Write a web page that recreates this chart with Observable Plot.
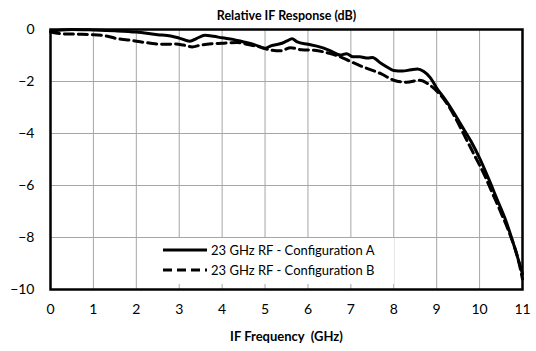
<!DOCTYPE html>
<html><head><meta charset="utf-8">
<script src="https://cdn.jsdelivr.net/npm/d3@7"></script>
<script src="https://cdn.jsdelivr.net/npm/@observablehq/plot@0.6"></script>
<style>
body{margin:0;background:#fff;}
#wrap{position:relative;width:536px;height:351px;font-family:Lato,sans-serif;}
#legend{position:absolute;left:146px;top:238px;width:248px;height:46px;background:#fff;font-size:13px;}
.row{position:absolute;left:16px;height:20px;display:flex;align-items:center;white-space:nowrap;}
.row svg{margin-right:3px;}
</style>
</head><body><div id="wrap"></div>
<script>
const titleText = "Relative IF Response (dB)";
const xLabel = "IF Frequency  (GHz)";
const seriesNames = ["23 GHz RF - Configuration A", "23 GHz RF - Configuration B"];
const xTicks = [0,1,2,3,4,5,6,7,8,9,10,11];
const yTicks = [0,-2,-4,-6,-8,-10];

const freqA = [0,0.25,0.5,1.0,1.5,2.0,2.5,2.8,3.0,3.25,3.4,3.6,3.8,4.0,4.25,4.5,4.75,5.0,5.15,5.35,5.5,5.63,5.75,6.0,6.25,6.5,6.75,6.9,7.05,7.2,7.4,7.5,7.7,7.9,8.0,8.2,8.4,8.55,8.7,8.85,9.0,9.2,9.4,9.6,9.8,10.0,10.2,10.4,10.6,10.8,11.0];
const respA = [-0.08,-0.02,0,-0.02,-0.05,-0.1,-0.2,-0.25,-0.33,-0.45,-0.35,-0.22,-0.26,-0.32,-0.38,-0.48,-0.58,-0.72,-0.62,-0.55,-0.45,-0.36,-0.48,-0.57,-0.66,-0.8,-0.98,-0.93,-1.05,-1.05,-1.1,-1.08,-1.3,-1.5,-1.58,-1.6,-1.55,-1.52,-1.62,-1.85,-2.25,-2.7,-3.2,-3.75,-4.3,-4.95,-5.7,-6.5,-7.3,-8.3,-9.4];

const freqB = [0,0.3,0.6,1.0,1.3,1.55,1.8,2.0,2.3,2.6,2.9,3.1,3.3,3.5,3.75,4.0,4.35,4.6,4.85,5.1,5.35,5.6,5.85,6.15,6.5,6.75,6.95,7.3,7.7,8.0,8.3,8.6,8.85,9.05,9.3,9.5,9.7,9.9,10.1,10.3,10.5,10.7,10.9,11.0];
const respB = [-0.1,-0.17,-0.18,-0.2,-0.25,-0.35,-0.4,-0.45,-0.52,-0.57,-0.56,-0.6,-0.67,-0.6,-0.55,-0.53,-0.5,-0.58,-0.66,-0.78,-0.82,-0.7,-0.78,-0.8,-0.92,-1.05,-1.2,-1.45,-1.7,-1.95,-2.03,-1.95,-2.15,-2.45,-3.0,-3.6,-4.25,-4.9,-5.55,-6.3,-7.05,-7.85,-8.85,-9.6];

const dataA = freqA.map((f,i)=>({f, r: respA[i]}));
const dataB = freqB.map((f,i)=>({f, r: respB[i]}));

const chart = Plot.plot({
  width: 536, height: 351,
  marginLeft: 50, marginRight: 14, marginTop: 29, marginBottom: 62,
  style: {fontFamily: "Lato, sans-serif", fontSize: "14px", color: "#000", background: "#fff"},
  x: {domain: [0, 11]},
  y: {domain: [-10, 0]},
  marks: [
    Plot.gridX(xTicks, {stroke: "#a6a6a6", strokeOpacity: 1, strokeWidth: 1}),
    Plot.gridY(yTicks, {stroke: "#a6a6a6", strokeOpacity: 1, strokeWidth: 1}),
    Plot.axisX({ticks: xTicks, tickSize: 0, tickPadding: 15, label: null, fontSize: 14}),
    Plot.axisY({ticks: yTicks, tickSize: 0, tickPadding: 16, label: null, fontSize: 14}),
    Plot.line(dataB, {x: "f", y: "r", stroke: "#000", strokeWidth: 3, strokeDasharray: "9,5", curve: "monotone-x"}),
    Plot.line(dataA, {x: "f", y: "r", stroke: "#000", strokeWidth: 3, curve: "monotone-x"}),
    Plot.frame({stroke: "#000", strokeWidth: 2.5}),
    Plot.text([titleText], {frameAnchor: "top", dy: -18, fontWeight: "bold", fontSize: 12.5}),
    Plot.text([xLabel], {frameAnchor: "bottom", dy: 51, fontWeight: "bold", fontSize: 13})
  ]
});
const wrap = document.getElementById("wrap");
wrap.appendChild(chart);

const legend = document.createElement("div");
legend.id = "legend";
const dashes = [null, "9,5"];
seriesNames.forEach((name, i) => {
  const row = document.createElement("div");
  row.className = "row";
  row.style.top = (2 + i * 20) + "px";
  row.innerHTML = `<svg width="46" height="6"><line x1="1" y1="3" x2="45" y2="3" stroke="#000" stroke-width="3" ${dashes[i] ? `stroke-dasharray="${dashes[i]}"` : ""}/></svg><span>${name}</span>`;
  legend.appendChild(row);
});
wrap.appendChild(legend);
</script>
</body></html>
